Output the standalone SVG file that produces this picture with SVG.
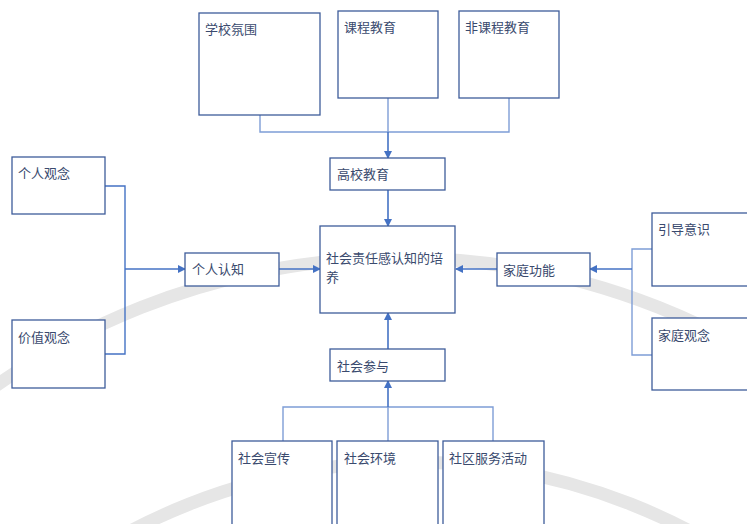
<svg xmlns="http://www.w3.org/2000/svg" width="747" height="524" viewBox="0 0 747 524">
<defs>
<style>
.box{fill:#fff;stroke:#3E5C9A;stroke-width:1.3}
.t{font-family:"Noto Sans CJK SC","Microsoft YaHei",sans-serif;font-size:13px;fill:#3A4A6E}
.ln{fill:none;stroke:#7E9DD6;stroke-width:1.4}
.ar{fill:none;stroke:#4472C4;stroke-width:1.6;marker-end:url(#ah)}
.wm{fill:none;stroke:#E6E6E6;stroke-width:13}
</style>
<marker id="ah" markerWidth="8" markerHeight="8" refX="7" refY="4" orient="auto" markerUnits="userSpaceOnUse">
<path d="M0,0 L8,4 L0,8 Z" fill="#4472C4"/>
</marker>
</defs>
<rect width="747" height="524" fill="#fff"/>
<g id="watermark">
<circle class="wm" cx="400" cy="960" r="702"/>
<circle class="wm" cx="410" cy="1062" r="600"/>
</g>
<g id="connectors">
<path class="ln" d="M260,115 V132 H509 V98"/>
<path class="ln" d="M388,98 V132"/>
<path class="ar" d="M388,132 V158"/>
<path class="ar" d="M388,190 V226"/>
<path class="ar" d="M105,186 H125 V354 H105" style="marker-end:none;stroke-width:1.4"/>
<path class="ar" d="M125,269 H185"/>
<path class="ar" d="M279,269 H320"/>
<path class="ar" d="M497,269 H456"/>
<path class="ln" d="M652,249 H632 V355 H652"/>
<path class="ar" d="M632,269 H590"/>
<path class="ar" d="M388,349 V313"/>
<path class="ln" d="M283,441 V407 H493 V441"/>
<path class="ln" d="M388,441 V407"/>
<path class="ar" d="M388,407 V381"/>
</g>
<g id="n-xxfw"><rect class="box" x="199" y="13" width="121" height="102"/><text class="t" x="205" y="34">学校氛围</text></g>
<g id="n-kcjy"><rect class="box" x="338" y="11" width="100" height="87"/><text class="t" x="344" y="32">课程教育</text></g>
<g id="n-fkcjy"><rect class="box" x="459" y="11" width="100" height="87"/><text class="t" x="465" y="32">非课程教育</text></g>
<g id="n-gxjy"><rect class="box" x="330" y="158" width="115" height="32"/><text class="t" x="337" y="179">高校教育</text></g>
<g id="n-grgn"><rect class="box" x="12" y="157" width="93" height="57"/><text class="t" x="18" y="178">个人观念</text></g>
<g id="n-jzgn"><rect class="box" x="12" y="320" width="93" height="68"/><text class="t" x="18" y="342">价值观念</text></g>
<g id="n-grrz"><rect class="box" x="185" y="253" width="94" height="33"/><text class="t" x="192" y="274">个人认知</text></g>
<g id="n-main"><rect class="box" x="320" y="226" width="135" height="87"/><text class="t" x="326" y="263">社会责任感认知的培</text><text class="t" x="326" y="282">养</text></g>
<g id="n-jtgn"><rect class="box" x="497" y="253" width="93" height="33"/><text class="t" x="503" y="275">家庭功能</text></g>
<g id="n-ydys"><rect class="box" x="652" y="213" width="100" height="73"/><text class="t" x="658" y="234">引导意识</text></g>
<g id="n-jtgn2"><rect class="box" x="652" y="318" width="100" height="72"/><text class="t" x="658" y="340">家庭观念</text></g>
<g id="n-shcy"><rect class="box" x="330" y="349" width="115" height="32"/><text class="t" x="337" y="371">社会参与</text></g>
<g id="n-shxc"><rect class="box" x="232" y="441" width="100" height="90"/><text class="t" x="238" y="463">社会宣传</text></g>
<g id="n-shhj"><rect class="box" x="337" y="441" width="101" height="90"/><text class="t" x="344" y="463">社会环境</text></g>
<g id="n-sqfw"><rect class="box" x="443" y="441" width="101" height="90"/><text class="t" x="449" y="463">社区服务活动</text></g>
</svg>
